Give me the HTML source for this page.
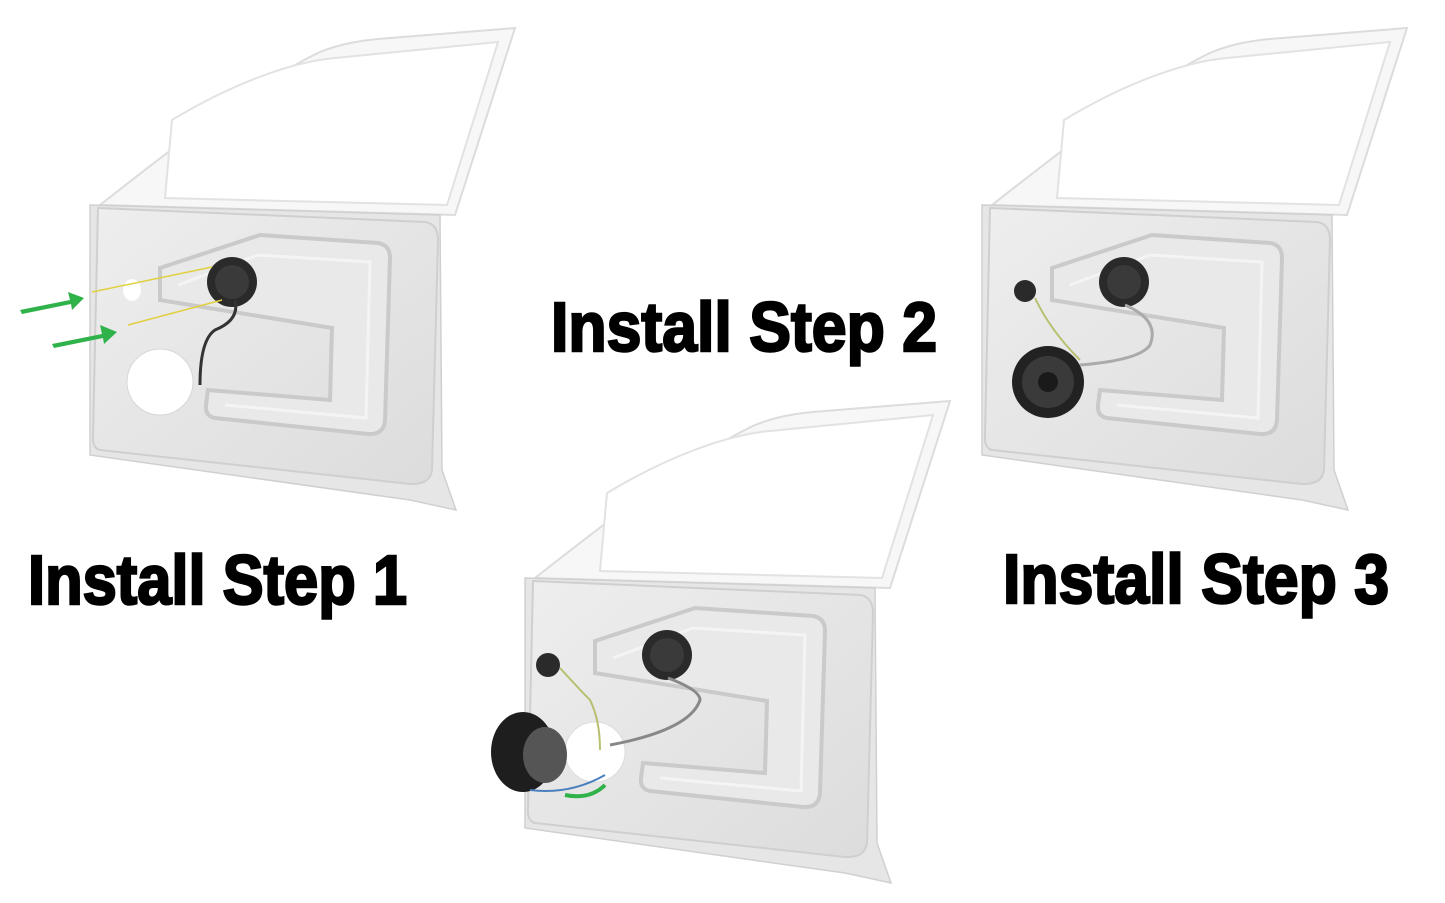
<!DOCTYPE html>
<html><head><meta charset="utf-8"><style>
html,body{margin:0;padding:0;background:#fff;}
svg{display:block}
text{font-family:"Liberation Sans Narrow","Liberation Sans",sans-serif;font-weight:bold;fill:#000;stroke:#000;stroke-width:2.5}
</style></head><body>
<svg width="1445" height="903" viewBox="0 0 1445 903" xmlns="http://www.w3.org/2000/svg">
<defs>
<linearGradient id="pg" x1="0" y1="0" x2="1" y2="1">
<stop offset="0" stop-color="#eeeeee"/><stop offset="1" stop-color="#dcdcdc"/>
</linearGradient>
<g id="door">
  <path d="M100,205 C170,150 260,80 320,52 C340,44 360,40 390,38 L515,28 L455,215 Z" fill="#f7f7f7" stroke="#dcdcdc" stroke-width="2"/>
  <path d="M165,198 L172,120 C230,85 290,62 335,58 L498,42 L447,205 Z" fill="#fff" stroke="#e2e2e2" stroke-width="2"/>
  <path d="M90,205 L440,215 L442,470 L456,510 L410,500 L90,455 Z" fill="#e6e6e6" stroke="#d0d0d0" stroke-width="1.5"/>
  <path d="M98,208 L425,222 Q438,224 438,240 L432,470 Q430,485 410,484 L100,450 Q92,448 93,435 Z" fill="url(#pg)" stroke="#cfcfcf" stroke-width="2"/>
  <path d="M160,268 L260,235 L378,243 Q390,245 390,258 L385,420 Q384,435 368,434 L215,418 Q205,416 206,405 L208,390 L330,400 L332,328 L160,300 Z" fill="#e9e9e9" stroke="#cacaca" stroke-width="4"/>
  <path d="M178,285 L258,255 L370,262 L366,418 L225,405 L225,405" fill="none" stroke="#f4f4f4" stroke-width="3"/>
</g>
</defs>

<use href="#door"/>
<circle cx="160" cy="382" r="33" fill="#fff" stroke="#d6d6d6"/>
<ellipse cx="132" cy="290" rx="9" ry="11" fill="#fff"/>
<circle cx="232" cy="282" r="25" fill="#2a2a2a"/>
<circle cx="232" cy="282" r="17" fill="#3a3a3a"/>
<path d="M235,300 Q240,320 215,330 Q200,340 200,385" fill="none" stroke="#333" stroke-width="3"/>
<line x1="92" y1="292" x2="212" y2="267" stroke="#e0d040" stroke-width="1.5"/>
<line x1="128" y1="325" x2="222" y2="300" stroke="#e0d040" stroke-width="1.5"/>
<path d="M20,310 L70,300 L68,292 L84,298 L72,310 L71,304 L22,314Z" fill="#2fb24a"/>
<path d="M52,344 L102,334 L100,325 L117,332 L104,344 L103,338 L54,348Z" fill="#2fb24a"/>

<g transform="translate(892,0)"><use href="#door"/></g>
<circle cx="1025" cy="291" r="11" fill="#2a2a2a"/>
<circle cx="1124" cy="282" r="25" fill="#2a2a2a"/>
<circle cx="1124" cy="282" r="17" fill="#3a3a3a"/>
<circle cx="1048" cy="382" r="36" fill="#222"/>
<circle cx="1048" cy="382" r="26" fill="#3a3a3a"/>
<circle cx="1048" cy="382" r="10" fill="#1a1a1a"/>
<path d="M1125,305 Q1160,320 1150,345 Q1140,360 1080,365" fill="none" stroke="#aaa" stroke-width="3"/>
<path d="M1035,298 Q1050,330 1080,360" fill="none" stroke="#b8c070" stroke-width="2"/>

<g transform="translate(435,373)"><use href="#door"/></g>
<circle cx="595" cy="752" r="30" fill="#fff" stroke="#ddd"/>
<ellipse cx="523" cy="752" rx="32" ry="40" fill="#1e1e1e"/>
<ellipse cx="545" cy="755" rx="22" ry="28" fill="#555"/>
<circle cx="548" cy="665" r="12" fill="#2a2a2a"/>
<circle cx="667" cy="655" r="25" fill="#2a2a2a"/>
<circle cx="667" cy="655" r="17" fill="#3a3a3a"/>
<path d="M668,678 Q700,690 700,700 Q690,730 610,745" fill="none" stroke="#888" stroke-width="3"/>
<path d="M560,668 Q580,690 590,700 Q600,720 600,750" fill="none" stroke="#b8c070" stroke-width="2"/>
<path d="M530,790 Q570,795 605,775" fill="none" stroke="#4a80c0" stroke-width="2"/>
<path d="M565,795 Q590,800 605,785" fill="none" stroke="#2fb24a" stroke-width="4"/>

<text x="28" y="604" font-size="70" textLength="379" lengthAdjust="spacingAndGlyphs">Install Step 1</text>
<text x="551" y="351" font-size="70" textLength="386" lengthAdjust="spacingAndGlyphs">Install Step 2</text>
<text x="1003" y="603" font-size="70" textLength="386" lengthAdjust="spacingAndGlyphs">Install Step 3</text>
</svg>
</body></html>
